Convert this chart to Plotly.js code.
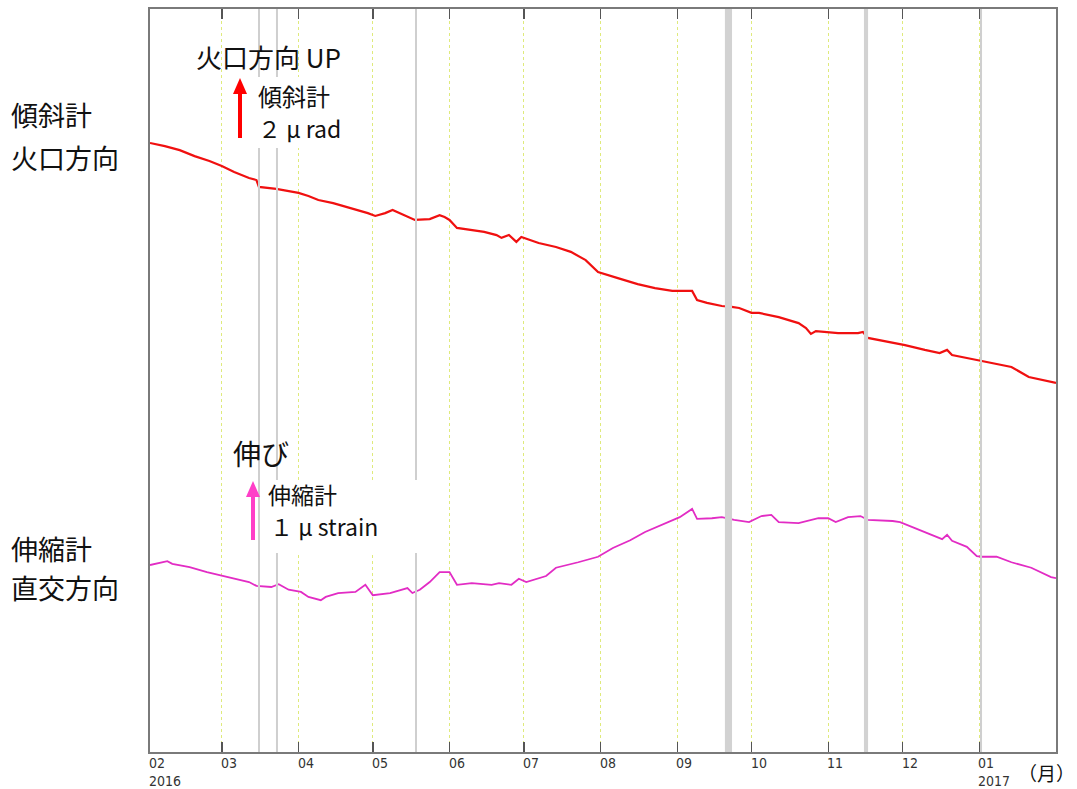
<!DOCTYPE html>
<html>
<head>
<meta charset="utf-8">
<script src="https://cdn.plot.ly/plotly-3.0.1.min.js"></script>
<style>html,body{margin:0;padding:0;background:#fff;}#chart{width:1077px;height:789px;}</style>
</head>
<body>
<div id="chart"></div>
<script>
// ---- data ----
const monthTicks = ['2016-02-01','2016-03-01','2016-04-01','2016-05-01','2016-06-01','2016-07-01','2016-08-01','2016-09-01','2016-10-01','2016-11-01','2016-12-01','2017-01-01','2017-02-01'];
const monthLabels = ['02','03','04','05','06','07','08','09','10','11','12','01'];
const yearLabels = {0:'2016', 11:'2017'};

// tilt (crater direction), microradian relative to start
const tiltDates = ['2016-02-01','2016-02-07','2016-02-13','2016-02-19','2016-02-25','2016-03-01','2016-03-06','2016-03-12','2016-03-15','2016-03-16','2016-03-23','2016-03-28','2016-04-01','2016-04-05','2016-04-09','2016-04-15','2016-04-19','2016-04-25','2016-04-29','2016-05-02','2016-05-06','2016-05-09','2016-05-12','2016-05-16','2016-05-18','2016-05-24','2016-05-28','2016-05-30','2016-06-01','2016-06-04','2016-06-10','2016-06-15','2016-06-20','2016-06-22','2016-06-25','2016-06-28','2016-06-30','2016-07-07','2016-07-14','2016-07-20','2016-07-26','2016-07-31','2016-08-08','2016-08-16','2016-08-23','2016-08-30','2016-09-07','2016-09-09','2016-09-13','2016-09-19','2016-09-23','2016-09-26','2016-10-01','2016-10-04','2016-10-12','2016-10-20','2016-10-23','2016-10-25','2016-10-27','2016-11-05','2016-11-13','2016-11-15','2016-11-17','2016-11-25','2016-12-02','2016-12-10','2016-12-16','2016-12-19','2016-12-21','2016-12-29','2017-01-06','2017-01-14','2017-01-21','2017-01-27','2017-02-01'];
const tiltValues = [0,-0.11,-0.25,-0.46,-0.63,-0.81,-1.02,-1.23,-1.30,-1.54,-1.61,-1.68,-1.75,-1.86,-2.00,-2.11,-2.21,-2.35,-2.46,-2.56,-2.46,-2.35,-2.46,-2.60,-2.70,-2.67,-2.53,-2.60,-2.70,-2.98,-3.05,-3.12,-3.23,-3.33,-3.23,-3.47,-3.30,-3.51,-3.65,-3.82,-4.11,-4.53,-4.74,-4.95,-5.09,-5.19,-5.19,-5.51,-5.61,-5.72,-5.75,-5.79,-5.96,-5.96,-6.11,-6.32,-6.49,-6.70,-6.60,-6.67,-6.67,-6.63,-6.84,-6.98,-7.09,-7.26,-7.37,-7.26,-7.44,-7.58,-7.72,-7.86,-8.21,-8.32,-8.42];

// extensometer (perpendicular direction), microstrain relative to start
const strainDates = ['2016-02-01','2016-02-08','2016-02-10','2016-02-17','2016-02-24','2016-02-29','2016-03-07','2016-03-12','2016-03-15','2016-03-21','2016-03-24','2016-03-28','2016-04-02','2016-04-05','2016-04-10','2016-04-12','2016-04-17','2016-04-24','2016-04-28','2016-05-01','2016-05-08','2016-05-15','2016-05-17','2016-05-20','2016-05-24','2016-05-28','2016-06-01','2016-06-04','2016-06-10','2016-06-18','2016-06-21','2016-06-26','2016-06-29','2016-07-02','2016-07-10','2016-07-14','2016-07-23','2016-07-31','2016-08-06','2016-08-13','2016-08-19','2016-08-26','2016-09-02','2016-09-07','2016-09-09','2016-09-15','2016-09-19','2016-09-24','2016-09-30','2016-10-05','2016-10-09','2016-10-12','2016-10-20','2016-10-28','2016-11-01','2016-11-04','2016-11-09','2016-11-14','2016-11-17','2016-11-27','2016-11-30','2016-12-06','2016-12-13','2016-12-17','2016-12-19','2016-12-21','2016-12-27','2016-12-31','2017-01-02','2017-01-08','2017-01-14','2017-01-22','2017-01-30','2017-02-01'];
const strainValues = [0,0.07,0.02,-0.04,-0.13,-0.18,-0.25,-0.31,-0.38,-0.40,-0.35,-0.45,-0.49,-0.58,-0.64,-0.58,-0.51,-0.49,-0.36,-0.55,-0.51,-0.42,-0.51,-0.45,-0.31,-0.13,-0.13,-0.36,-0.33,-0.36,-0.33,-0.36,-0.25,-0.31,-0.20,-0.05,0.05,0.15,0.31,0.45,0.60,0.73,0.87,1.02,0.84,0.85,0.87,0.82,0.78,0.89,0.91,0.78,0.76,0.85,0.85,0.78,0.87,0.89,0.82,0.80,0.78,0.67,0.55,0.47,0.55,0.44,0.33,0.16,0.15,0.15,0.05,-0.05,-0.22,-0.24];

// gray marks (data gaps / maintenance)
const gapLines = ['2016-03-16 00:45','2016-03-23 07:00','2016-05-18 11:00','2017-01-01 17:00'];
const gapBands = [['2016-09-20 06:00','2016-09-23 03:00'],['2016-11-15 10:00','2016-11-17 02:00']];

// ---- layout helpers (pixel -> paper) ----
const L = 150, R = 1056, T = 9, B = 752;
const px = x => (x - L) / (R - L);
const py = y => (B - y) / (B - T);
const tiltPxPerUnit = 28.5, tiltZeroPx = 143;
const strainPxPerUnit = 55, strainZeroPx = 565;

const shapes = [];
gapLines.forEach(d => shapes.push({type:'line', xref:'x', yref:'paper', x0:d, x1:d, y0:0, y1:1, layer:'above', line:{color:'#cfcfcf', width:2}}));
gapBands.forEach(b => shapes.push({type:'rect', xref:'x', yref:'paper', x0:b[0], x1:b[1], y0:0, y1:1, layer:'above', fillcolor:'#d2d2d2', line:{width:0}}));
// white label boxes
shapes.push({type:'rect', xref:'paper', yref:'paper', x0:px(228), x1:px(362), y0:py(148), y1:py(77), layer:'above', fillcolor:'#ffffff', line:{width:0}});
shapes.push({type:'rect', xref:'paper', yref:'paper', x0:px(262), x1:px(421), y0:py(553), y1:py(480), layer:'above', fillcolor:'#ffffff', line:{width:0}});
// scale arrows
function arrow(x, yTip, yTail, color) {
  shapes.push({type:'line', xref:'paper', yref:'paper', x0:px(x), x1:px(x), y0:py(yTail), y1:py(yTip + 14), layer:'above', line:{color:color, width:4}});
  shapes.push({type:'path', xref:'paper', yref:'paper', layer:'above', fillcolor:color, line:{width:0},
    path:`M ${px(x)},${py(yTip)} L ${px(x-7)},${py(yTip+16)} L ${px(x+7)},${py(yTip+16)} Z`});
}
arrow(240, 78, 138, '#ff0000');
arrow(253, 481, 540, '#ff3fc8');

const cjk = '"Noto Sans CJK JP", "Noto Sans", sans-serif';
const ann = [];
function txt(text, x, y, size, anchor) {
  ann.push({text:text, xref:'paper', yref:'paper', x:px(x), y:py(y), xanchor:anchor||'left', yanchor:'middle', showarrow:false, font:{family:cjk, size:size, color:'#111'}});
}
txt('傾斜計', 9, 115, 27);
txt('火口方向', 9, 157, 27);
txt('伸縮計', 9, 548, 27);
txt('直交方向', 9, 587, 27);
txt('火口方向 UP', 194, 57, 26);
txt('傾斜計', 256, 95, 24);
txt('２ μ rad', 256, 128, 23);
txt('伸び', 231, 453, 28);
txt('伸縮計', 266, 494, 23);
txt('１ μ strain', 268, 526, 23);
txt('（月）', 1077, 773, 19, 'right');

monthLabels.forEach((m, i) => {
  ann.push({text: m + (yearLabels[i] ? '<br>' + yearLabels[i] : ''), xref:'x', yref:'paper', x:monthTicks[i], y:0, xanchor:'left', yanchor:'top', yshift:-1, xshift:-3, align:'left', showarrow:false,
    font:{family:'"DejaVu Sans Condensed", "Liberation Sans Narrow", sans-serif', size:14, color:'#333'}});
});

const traces = [
  {x:tiltDates, y:tiltValues, type:'scatter', mode:'lines', yaxis:'y', line:{color:'#f01010', width:2.2}, hoverinfo:'skip'},
  {x:strainDates, y:strainValues, type:'scatter', mode:'lines', yaxis:'y2', line:{color:'#e22cc4', width:1.8}, hoverinfo:'skip'}
];

const layout = {
  width:1077, height:789,
  margin:{l:L, r:1077-R, t:T, b:789-B},
  paper_bgcolor:'#ffffff', plot_bgcolor:'#ffffff',
  showlegend:false,
  xaxis:{type:'date', range:['2016-02-01','2017-02-01'], tickvals:monthTicks, showticklabels:false,
    ticks:'inside', ticklen:10, tickwidth:1.5, tickcolor:'#555',
    showgrid:true, gridcolor:'#dfea7c', griddash:'dot', gridwidth:1.4,
    showline:true, linecolor:'#7a7a7a', linewidth:2, mirror:'ticks', zeroline:false, fixedrange:true},
  yaxis:{range:[-(B-tiltZeroPx)/tiltPxPerUnit, (tiltZeroPx-T)/tiltPxPerUnit], showgrid:false, showticklabels:false, ticks:'',
    showline:true, linecolor:'#7a7a7a', linewidth:2, mirror:true, zeroline:false, fixedrange:true},
  yaxis2:{range:[-(B-strainZeroPx)/strainPxPerUnit, (strainZeroPx-T)/strainPxPerUnit], overlaying:'y', visible:false, fixedrange:true},
  shapes:shapes,
  annotations:ann
};

Plotly.newPlot('chart', traces, layout, {staticPlot:true});
</script>
</body>
</html>
